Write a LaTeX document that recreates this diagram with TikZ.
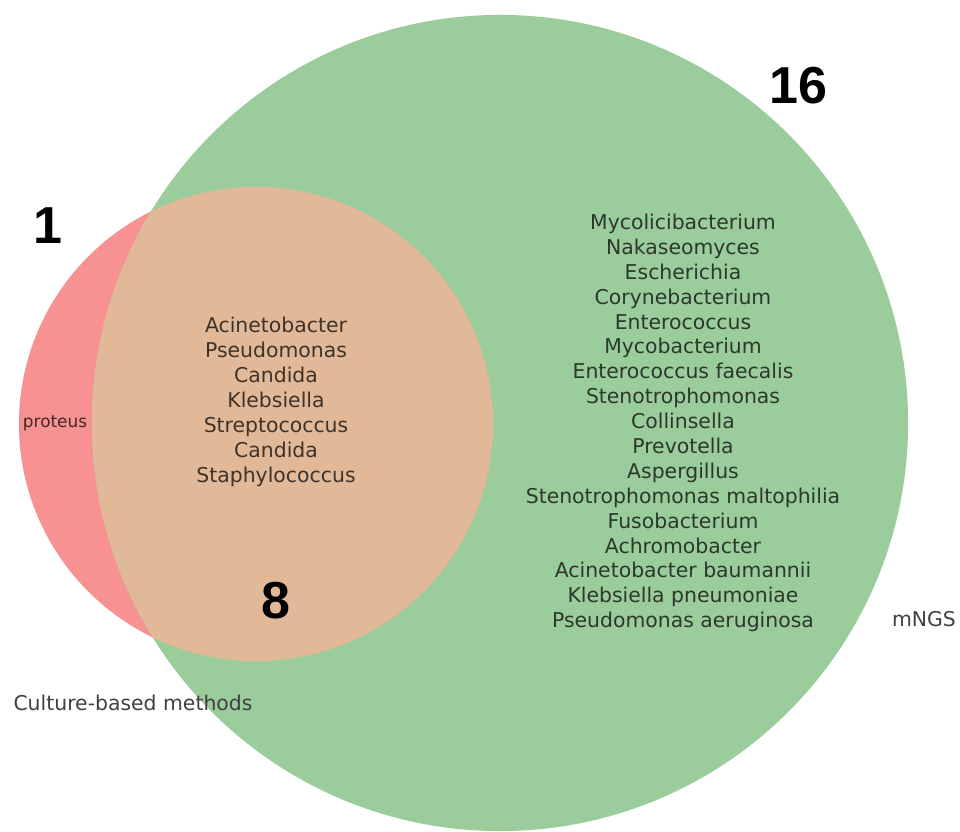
\documentclass[tikz,border=0pt]{standalone}
\usepackage{fontspec}
\setmainfont{DejaVu Sans}
\newfontfamily\numfont{Liberation Sans}
\usepackage{xcolor}
\definecolor{culturered}{RGB}{248,145,145}
\definecolor{ngsgreen}{RGB}{155,204,155}
\definecolor{bothtan}{RGB}{226,185,152}
\begin{document}
\begin{tikzpicture}[x=0.025cm,y=-0.025cm,
  count/.style={font=\numfont\fontsize{37}{40}\selectfont\bfseries,text=black},
  taxa/.style={align=center,font=\fontsize{14.5}{17.7}\selectfont,text=black,text opacity=0.72},
  setlabel/.style={font=\fontsize{14.5}{17.7}\selectfont,text=black!75}]
\useasboundingbox (0,0) rectangle (960,832);
\fill[culturered] (256,424) circle [radius=5.925cm];
\fill[ngsgreen] (500,423) circle [radius=10.2cm];
\begin{scope}
\clip (256,424) circle [radius=5.925cm];
\fill[bothtan] (500,423) circle [radius=10.2cm];
\end{scope}
\node[count] (only1) at (48,226) {1};
\node[count] (only16) at (798,86) {16};
\node[count] (both8) at (276,601) {8};
\node[font=\fontsize{12}{14}\selectfont,text=black,text opacity=0.72] (proteus) at (55,423) {proteus};
\node[taxa] (bothlist) at (276,402) {Acinetobacter\\Pseudomonas\\Candida\\Klebsiella\\Streptococcus\\Candida\\Staphylococcus};
\node[taxa] (ngslist) at (683,423) {Mycolicibacterium\\Nakaseomyces\\Escherichia\\Corynebacterium\\Enterococcus\\Mycobacterium\\Enterococcus faecalis\\Stenotrophomonas\\Collinsella\\Prevotella\\Aspergillus\\Stenotrophomonas maltophilia\\Fusobacterium\\Achromobacter\\Acinetobacter baumannii\\Klebsiella pneumoniae\\Pseudomonas aeruginosa};
\node[setlabel] (culturelabel) at (133,703) {Culture-based methods};
\node[setlabel] (ngslabel) at (924,619) {mNGS};
\end{tikzpicture}
\end{document}
